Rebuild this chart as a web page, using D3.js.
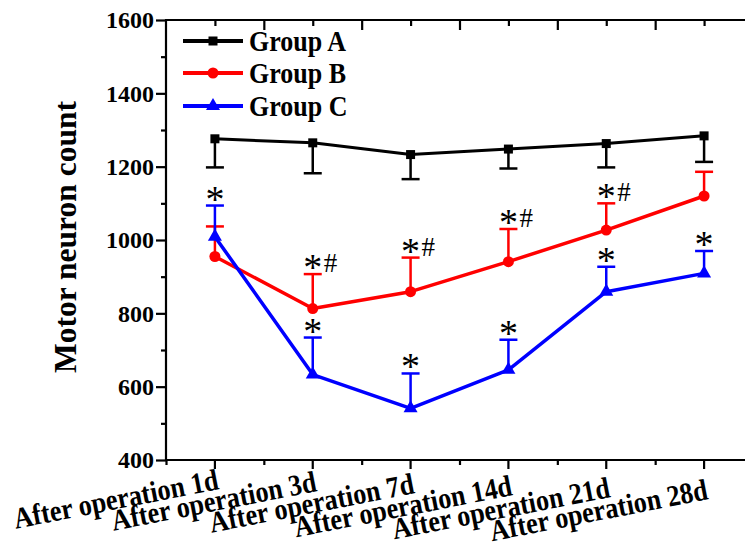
<!DOCTYPE html>
<html>
<head>
<meta charset="utf-8">
<script src="https://cdn.jsdelivr.net/npm/d3@7"></script>
<style>
  html, body { margin: 0; padding: 0; background: #fff; overflow: hidden; }
  svg { display: block; }
</style>
</head>
<body>
<svg id="chart" width="745" height="554"></svg>
<script>
// ---- data ----
const categories = ["After operation 1d", "After operation 3d", "After operation 7d",
                    "After operation 14d", "After operation 21d", "After operation 28d"];
const groupA = [1276, 1265, 1233, 1248, 1263, 1284];
const groupAErr = [78, 83, 67, 53, 65, 71];
const groupB = [955, 813, 859, 941, 1027, 1120];
const groupBErr = [82, 94, 93, 89, 73, 66];
const groupC = [1009, 633, 541, 646, 859, 909];
const groupCErr = [85, 101, 95, 82, 68, 61];
const annotB = ["", "*#", "*#", "*#", "*#", ""];
const annotC = ["*", "*", "*", "*", "*", "*"];
const yTicks = [400, 600, 800, 1000, 1200, 1400, 1600];
const seriesNames = ["Group A", "Group B", "Group C"];

const FONT = "Liberation Serif";
const svg = d3.select("#chart").style("font-family", FONT);
const L = 166, R = 753, T = 20, B = 460;

const x = d3.scaleBand().domain(categories).range([L, R]).padding(0);
const cx = c => x(c) + x.bandwidth() / 2;
const y = d3.scaleLinear().domain([400, 1600]).range([B, T]);
const topScale = d3.scaleLinear().domain([0, 12]).range([L, R]);
const rightScale = d3.scaleLinear().domain([0, 440]).range([T, B]);

const series = [
  { name: seriesNames[0], vals: groupA, err: groupAErr, dir: 1, color: "#000000", shape: "square", lw: 3 },
  { name: seriesNames[1], vals: groupB, err: groupBErr, dir: -1, color: "#ff0000", shape: "circle", lw: 3.5 },
  { name: seriesNames[2], vals: groupC, err: groupCErr, dir: -1, color: "#0000ff", shape: "triangle", lw: 3.5 }
];

// ---- axes ----
const axW = 2.2;
const gL = svg.append("g").attr("transform", `translate(${L},0)`)
  .call(d3.axisLeft(y).tickValues(yTicks).tickSize(10).tickPadding(2).tickFormat(d3.format("d")));
gL.attr("font-family", null);
gL.selectAll("text").attr("font-size", 24).attr("font-weight", "bold").attr("fill", "#000")
  .style("font-family", FONT);
svg.append("g").attr("transform", `translate(${L},0)`)
  .call(d3.axisLeft(y).tickValues(d3.range(500, 1600, 200)).tickSize(5).tickFormat(""));

svg.append("g").attr("transform", `translate(0,${B})`)
  .call(d3.axisBottom(x).tickValues(categories).tickSize(9).tickFormat("").offset(0))
  .call(g => g.selectAll(".tick").attr("transform", d => `translate(${cx(d)},0)`));
svg.append("g").attr("transform", `translate(0,${B})`)
  .call(d3.axisBottom(topScale).tickValues(d3.range(0, 13, 2)).tickSize(5).tickFormat(""));
svg.append("g").attr("transform", `translate(0,${T})`)
  .call(d3.axisBottom(topScale).tickValues(d3.range(2, 13, 2)).tickSize(10).tickFormat(""));
svg.append("g").attr("transform", `translate(0,${T})`)
  .call(d3.axisBottom(topScale).tickValues(d3.range(1, 13, 2)).tickSize(6).tickFormat(""));
svg.append("g").attr("transform", `translate(${R + 2},0)`)
  .call(d3.axisLeft(rightScale).tickValues([25, 112, 200, 287]).tickSize(10).tickFormat(""));

svg.selectAll(".tick line").attr("stroke", "#000").attr("stroke-width", axW);
svg.selectAll(".domain").remove();
svg.append("path")
  .attr("d", `M${L},${T}H${R}V${B}H${L}Z`)
  .attr("fill", "none").attr("stroke", "#000").attr("stroke-width", axW);

// x category labels
svg.append("g").selectAll("text").data(categories).join("text")
  .attr("transform", (d, i) => `translate(${cx(d) + 5},${B + 29 + 2 * i}) rotate(-11) scale(1.01,1.15)`)
  .attr("text-anchor", "end")
  .attr("font-size", 26).attr("font-weight", "bold")
  .text(d => d);

// y title
svg.append("text")
  .attr("transform", `translate(76,237) rotate(-90)`)
  .attr("text-anchor", "middle")
  .attr("font-size", 31.5).attr("font-weight", "bold")
  .text("Motor neuron count");

// ---- marks ----
function marker(g, shape, color) {
  if (shape === "square") {
    g.append("rect").attr("x", -4.5).attr("y", -4.5).attr("width", 9).attr("height", 9).attr("fill", color);
  } else if (shape === "circle") {
    g.append("circle").attr("r", 5.5).attr("fill", color);
  } else {
    g.append("path").attr("d", d3.symbol(d3.symbolTriangle, 85)()).attr("fill", color);
  }
}

const capW = 18;
series.forEach(s => {
  const g = svg.append("g");
  categories.forEach((c, i) => {
    const y0 = y(s.vals[i]);
    const y1 = y(s.vals[i] - s.dir * s.err[i]);
    g.append("line").attr("x1", cx(c)).attr("x2", cx(c)).attr("y1", y0).attr("y2", y1)
      .attr("stroke", s.color).attr("stroke-width", 2.5);
    g.append("line").attr("x1", cx(c) - capW / 2).attr("x2", cx(c) + capW / 2).attr("y1", y1).attr("y2", y1)
      .attr("stroke", s.color).attr("stroke-width", 2.5);
  });
  g.append("path")
    .datum(s.vals)
    .attr("d", d3.line().x((d, i) => cx(categories[i])).y(d => y(d)))
    .attr("fill", "none").attr("stroke", s.color).attr("stroke-width", s.lw)
    .attr("stroke-linejoin", "round");
  categories.forEach((c, i) => {
    const m = g.append("g").attr("transform", `translate(${cx(c)},${y(s.vals[i])})`);
    marker(m, s.shape, s.color);
  });
});

// significance marks
function annotate(vals, err, labels) {
  categories.forEach((c, i) => {
    const lab = labels[i];
    if (!lab) return;
    const capY = y(vals[i] + err[i]);
    svg.append("text").attr("x", cx(c)).attr("y", capY + 6)
      .attr("text-anchor", "middle").attr("font-size", 38).text("*");
    if (lab.includes("#")) {
      svg.append("text").attr("x", cx(c) + 11).attr("y", capY - 2)
        .attr("text-anchor", "start").attr("font-size", 27).text("#");
    }
  });
}
annotate(groupB, groupBErr, annotB);
annotate(groupC, groupCErr, annotC);

// legend
const lg = svg.append("g");
series.forEach((s, i) => {
  const ly = [41, 73, 106][i];
  lg.append("line").attr("x1", 183).attr("x2", 243).attr("y1", ly).attr("y2", ly)
    .attr("stroke", s.color).attr("stroke-width", 4);
  const m = lg.append("g").attr("transform", `translate(213,${ly})`);
  marker(m, s.shape, s.color);
  lg.append("text").attr("transform", `translate(249,${ly + 10}) scale(1,1.15)`)
    .attr("font-size", 26).attr("font-weight", "bold").text(s.name);
});
</script>
</body>
</html>
